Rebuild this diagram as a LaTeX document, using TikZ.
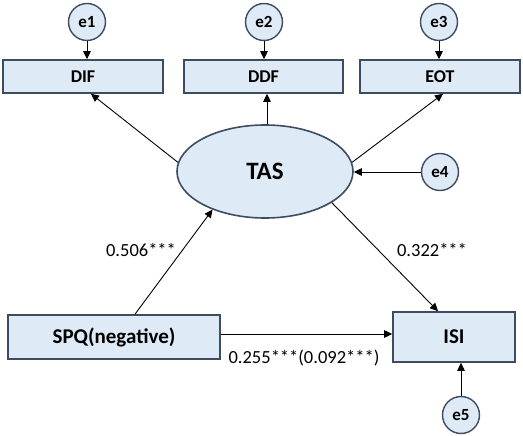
\documentclass[tikz,border=0pt]{standalone}
\usepackage{fontspec}
\setmainfont{Carlito}
\usetikzlibrary{shapes.geometric,arrows.meta}
\definecolor{boxfill}{HTML}{DEEAF6}
\definecolor{boxline}{HTML}{3E4C60}
\tikzset{
  errc/.style={circle,draw=boxline,fill=boxfill,line width=1.4pt,minimum size=37pt,inner sep=0pt,font=\fontsize{17}{17}\selectfont\bfseries},
  obsbox/.style={rectangle,draw=boxline,fill=boxfill,line width=1.6pt,inner sep=0pt,font=\fontsize{18}{18}\selectfont\bfseries},
  latent/.style={ellipse,draw=boxline,fill=boxfill,line width=1.6pt,inner sep=0pt,minimum width=176pt,minimum height=93pt,font=\fontsize{25}{25}\selectfont\bfseries},
  conn/.style={draw=black,line width=0.9pt,-{Triangle[length=8pt,width=7.5pt]}},
  coef/.style={font=\fontsize{18.5}{18.5}\selectfont,inner sep=0pt}
}
\begin{document}
\begin{tikzpicture}[x=1pt,y=-1pt]
\useasboundingbox (0,0) rectangle (523,436);
\node[errc] (e1) at (87,22) {e1};
\node[errc] (e2) at (264,22) {e2};
\node[errc] (e3) at (439,22) {e3};
\node[obsbox,minimum width=160pt,minimum height=33pt] (DIF) at (83,76.5) {DIF};
\node[obsbox,minimum width=159pt,minimum height=33pt] (DDF) at (263.5,76.5) {DDF};
\node[obsbox,minimum width=160pt,minimum height=33pt] (EOT) at (440,76.5) {EOT};
\node[latent] (TAS) at (265,171.5) {TAS};
\node[errc] (e4) at (440,172) {e4};
\node[obsbox,minimum width=212pt,minimum height=44pt,font=\fontsize{21}{21}\selectfont\bfseries] (SPQ) at (114,337) {SPQ(negative)};
\node[obsbox,minimum width=122pt,minimum height=50pt,font=\fontsize{21}{21}\selectfont\bfseries] (ISI) at (454,337) {ISI};
\node[errc] (e5) at (461,415) {e5};

\draw[conn] (e1.south) -- (e1.south |- DIF.north);
\draw[conn] (e2.south) -- (e2.south |- DDF.north);
\draw[conn] (e3.south) -- (e3.south |- EOT.north);
\draw[conn] (TAS.174) -- ([xshift=8pt]DIF.south);
\draw[conn] ([xshift=2pt]TAS.north) -- ([xshift=2pt]TAS.north |- DDF.south);
\draw[conn] (TAS.6) -- ([xshift=3pt]EOT.south);
\draw[conn] (e4.west) -- (e4.west -| TAS.east);
\draw[conn] (TAS.-25) -- ([xshift=-16pt]ISI.north);
\draw[conn] ([xshift=21pt]SPQ.north) -- (TAS.216);
\draw[conn] ([yshift=3pt]SPQ.east) -- ([yshift=3pt]ISI.west);
\draw[conn] (e5.north) -- (e5.north |- ISI.south);

\node[coef] (l1) at (141,250) {0.506***};
\node[coef] (l2) at (432,250) {0.322***};
\node[coef] (l3) at (304,358) {0.255***(0.092***)};
\end{tikzpicture}
\end{document}
